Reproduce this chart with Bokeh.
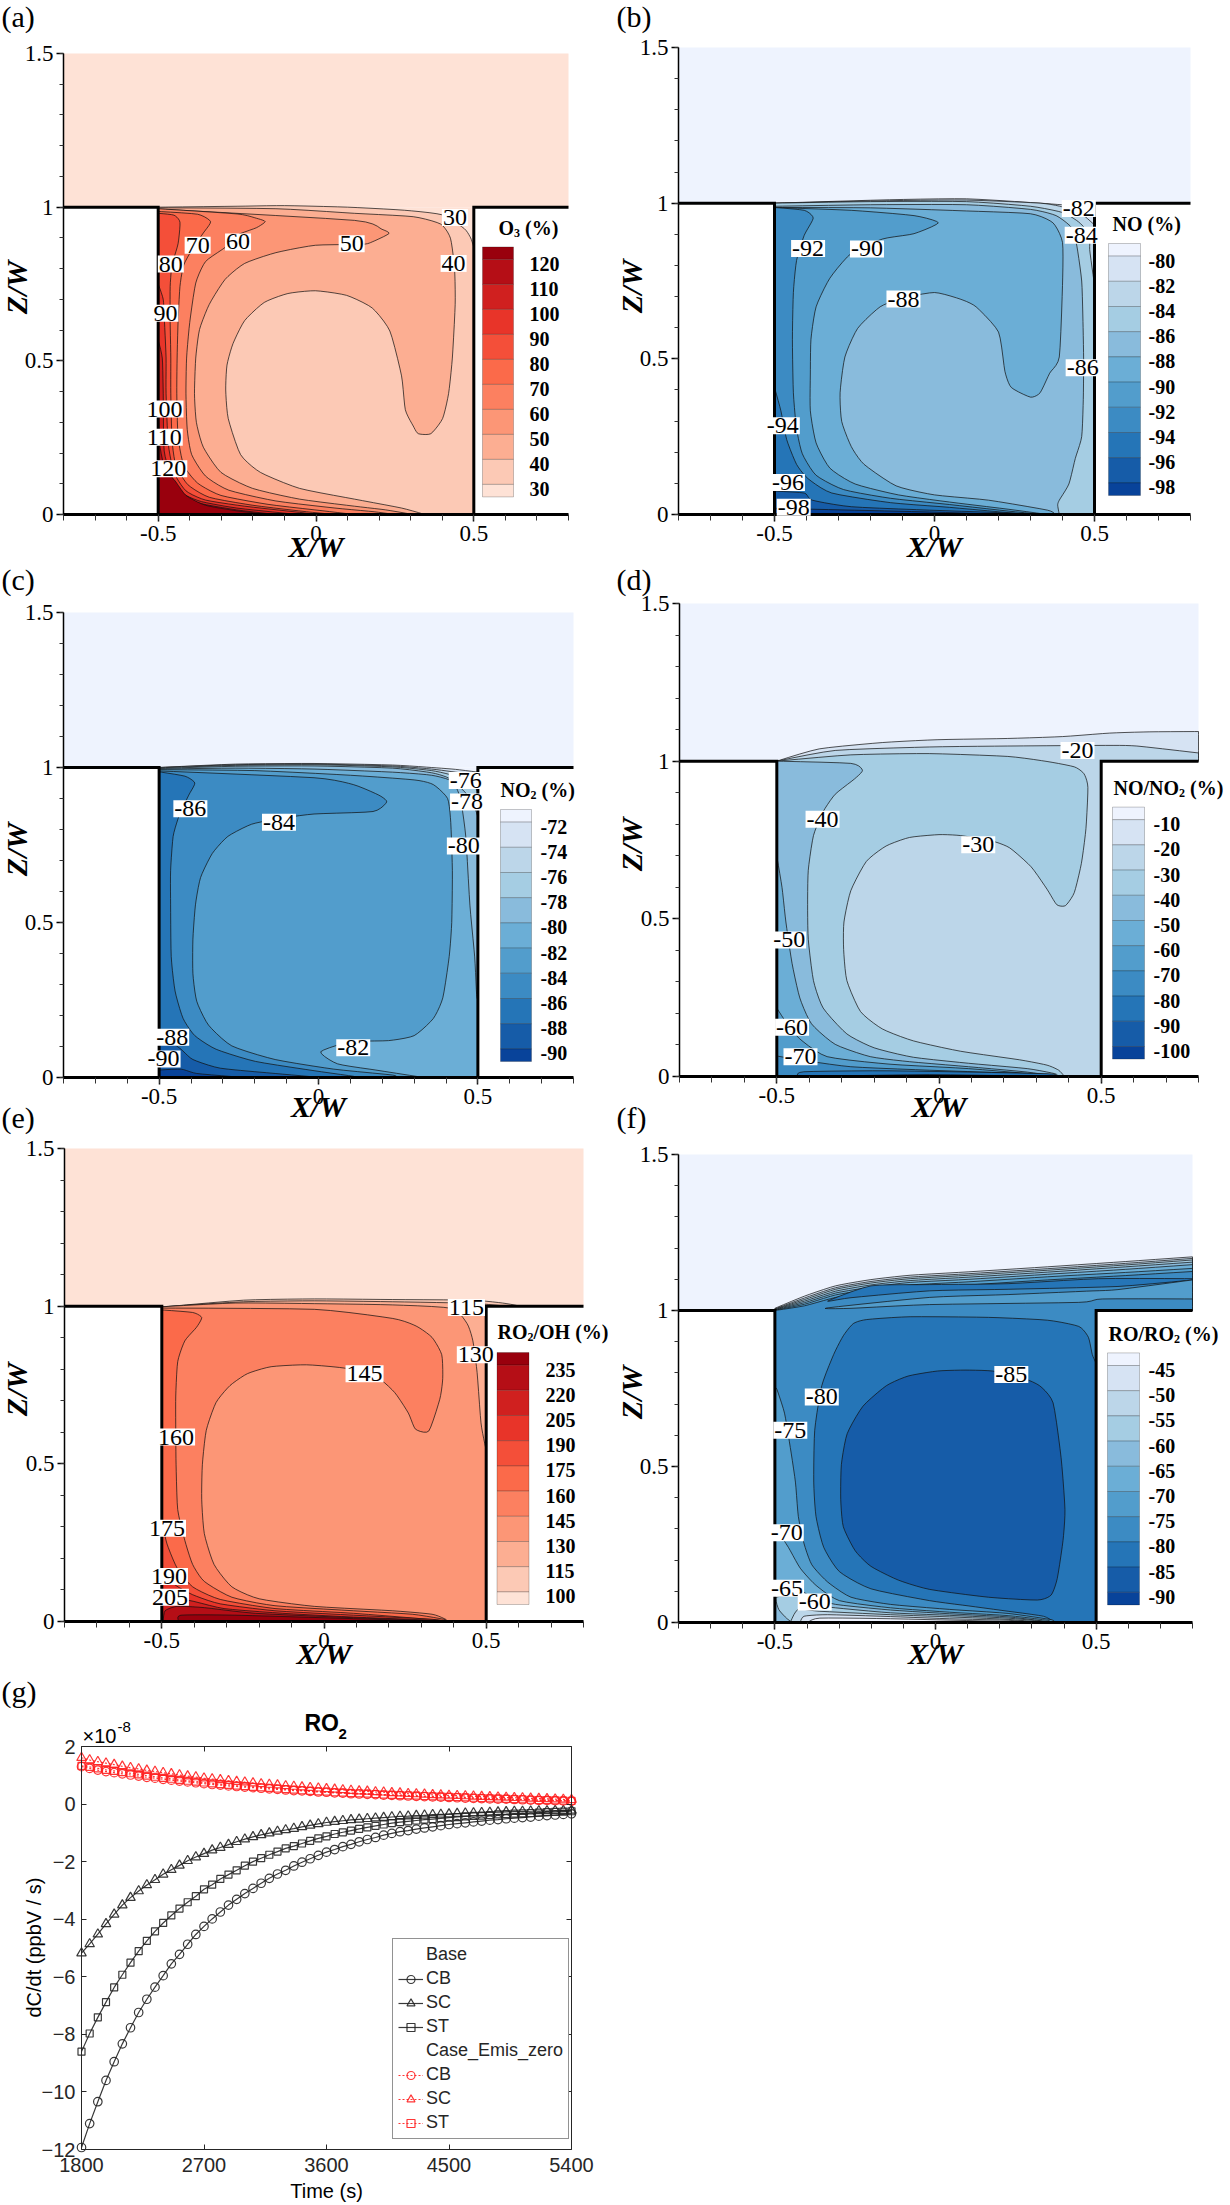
import math
from bokeh.plotting import figure
from bokeh.layouts import column, row
from bokeh.embed import file_html
from bokeh.resources import INLINE
from bokeh.models import (Label, FixedTicker, NumeralTickFormatter, LinearAxis, Legend, LegendItem)

# ---------- colour scales ----------
REDS = ["#fee2d6", "#fcc9b5", "#fcae92", "#fc9676", "#fc8060", "#fb6a4a", "#f44f39", "#e83429", "#d0201f", "#b50e16", "#99000d"]
BLUES = ["#eef3fe", "#d6e3f3", "#bcd6e9", "#a5cde3", "#89bbdc", "#6baed6", "#529dcc", "#3c8bc3", "#2575b7", "#165ca8", "#08439a"]

# ---------- panel (a) O3 ----------
a_levels = [120, 110, 100, 90, 80, 70, 60, 50, 40, 30]
a_30 = [(-.5,1),(-.25,1.003),(-.1,1.005),(.1,1.0),(.28,.99),(.4,.975),(.47,.93),(.49,.9),(.5,.87),(.5,0),(-.5,0)]
a_40 = [(-.5,.998),(-.127,.995),(.122,.98),(.308,.969),(.395,.945),(.426,.899),(.439,.8),(.441,.684),(.432,.509),(.42,.393),(.401,.312),(.364,.263),(.324,.263),(.308,.288),(.283,.341),(.271,.451),(.234,.597),(.178,.672),(.097,.713),(-.002,.728),(-.089,.719),(-.164,.69),(-.226,.631),(-.263,.556),(-.282,.486),(-.286,.405),(-.278,.312),(-.239,.195),(-.176,.137),(-.052,.085),(.122,.05),(.271,.021),(.345,0),(-.5,0)]
a_50 = [(-.5,.994),(.122,.957),(.209,.928),(.231,.914),(.178,.887),(.147,.879),(-.002,.876),(-.127,.852),(-.226,.817),(-.288,.765),(-.338,.684),(-.369,.602),(-.381,.509),(-.385,.393),(-.379,.3),(-.357,.219),(-.301,.137),(-.201,.085),(-.052,.05),(.122,.027),(.221,.015),(.308,0),(-.5,0)]
a_60 = [(-.5,.995),(-.25,.978),(-.189,.964),(-.161,.953),(-.189,.933),(-.25,.909),(-.288,.869),(-.35,.823),(-.381,.753),(-.4,.625),(-.41,.509),(-.412,.393),(-.408,.277),(-.394,.195),(-.35,.125),(-.276,.079),(-.127,.044),(.06,.021),(.184,.009),(.25,0),(-.5,0)]
a_70 = [(-.5,.986),(-.375,.977),(-.334,.953),(-.357,.916),(-.388,.87),(-.419,.812),(-.431,.742),(-.437,.626),(-.44,.509),(-.441,.393),(-.437,.253),(-.419,.16),(-.375,.102),(-.301,.062),(-.152,.033),(.022,.012),(.122,0),(-.5,0)]
a_80 = [(-.5,.98),(-.45,.974),(-.431,.951),(-.437,.881),(-.456,.812),(-.462,.742),(-.462,.626),(-.46,.509),(-.46,.393),(-.456,.242),(-.444,.16),(-.406,.097),(-.338,.056),(-.2,.03),(-.03,.009),(.06,0),(-.5,0)]
a_90 = [(-.5,.75),(-.484,.7),(-.48,.626),(-.475,.509),(-.475,.393),(-.468,.23),(-.45,.137),(-.412,.077),(-.35,.047),(-.226,.027),(-.052,.007),(0,0),(-.5,0)]
a_100 = [(-.5,.567),(-.487,.509),(-.484,.393),(-.481,.207),(-.456,.12),(-.419,.067),(-.363,.042),(-.251,.021),(-.077,.002),(-.05,0),(-.5,0)]
a_110 = [(-.5,.358),(-.494,.219),(-.468,.108),(-.425,.058),(-.363,.035),(-.251,.015),(-.127,0),(-.5,0)]
a_120 = [(-.5,.16),(-.45,.114),(-.412,.062),(-.35,.03),(-.251,.012),(-.15,0),(-.5,0)]
a_labels = ["30","40","50","60","70","80","90","100","110","120"]
a_label_x = [.44,.436,.113,-.247,-.375,-.46,-.477,-.48,-.481,-.468]
a_label_z = [.966,.817,.881,.887,.876,.815,.655,.343,.251,.149]

# ---------- panel (b) NO ----------
b_levels = [-80,-82,-84,-86,-88,-90,-92,-94,-96,-98]
b_80 = [(-.5,1),(-.14,1.011),(.1,1.014),(.33,1.0),(.41,.994),(.5,.99),(.5,0),(-.5,0)]
b_82 = [(-.5,1),(-.14,1.008),(.1,1.01),(.33,1.0),(.4,.988),(.46,.965),(.5,.93),(.5,0),(-.5,0)]
b_84 = [(-.5,1),(-.2,1.005),(.1,1.005),(.3,.99),(.4,.97),(.45,.94),(.485,.9),(.485,.851),(.497,.759),(.5,.74),(.5,0),(-.5,0)]
b_86 = [(-.5,.99),(-.2,.995),(.1,.995),(.3,.98),(.38,.96),(.43,.92),(.445,.862),(.46,.75),(.464,.62),(.466,.5),(.465,.37),(.46,.25),(.44,.18),(.42,.098),(.39,.046),(.385,.03),(.39,0),(-.5,0)]
b_88 = [(-.5,.986),(-.2,.985),(.1,.975),(.3,.966),(.37,.937),(.4,.874),(.4,.736),(.39,.506),(.36,.454),(.33,.391),(.3,.377),(.24,.408),(.22,.46),(.2,.586),(.13,.667),(.08,.692),(0,.713),(-.1,.695),(-.17,.667),(-.24,.598),(-.28,.506),(-.295,.391),(-.29,.299),(-.26,.218),(-.22,.161),(-.12,.092),(0,.063),(.169,.046),(.353,.014),(.377,0),(-.5,0)]
b_90 = [(-.5,.986),(-.26,.977),(-.064,.96),(.012,.937),(-.064,.902),(-.162,.885),(-.26,.839),(-.327,.759),(-.37,.667),(-.386,.563),(-.388,.448),(-.388,.333),(-.37,.23),(-.327,.149),(-.248,.098),(-.113,.063),(.047,.04),(.23,.017),(.353,0),(-.5,0)]
b_92 = [(-.5,.986),(-.407,.977),(-.379,.952),(-.407,.897),(-.431,.816),(-.441,.713),(-.444,.563),(-.441,.391),(-.431,.276),(-.413,.195),(-.37,.126),(-.284,.08),(-.137,.052),(.047,.032),(.23,.011),(.34,0),(-.5,0)]
b_94 = [(-.5,.408),(-.48,.333),(-.462,.241),(-.431,.161),(-.395,.115),(-.321,.069),(-.137,.038),(.047,.023),(.23,.006),(.3,0),(-.5,0)]
b_96 = [(-.5,.075),(-.407,.069),(-.382,.046),(-.26,.025),(-.015,.014),(.23,.005),(.29,0),(-.5,0)]
b_98 = [(-.5,.02),(-.382,.017),(-.015,.008),(.23,0),(-.5,0)]
b_labels = ["-82","-84","-86","-88","-90","-92","-94","-96","-98"]
b_label_x = [.451,.46,.463,-.097,-.211,-.395,-.474,-.458,-.44]
b_label_z = [.983,.897,.471,.692,.853,.854,.285,.103,.023]

# ---------- panel (c) NO2 ----------
c_levels = [-72,-74,-76,-78,-80,-82,-84,-86,-88,-90]
c_72 = [(-.5,1),(-.26,1.011),(-.014,1.013),(.232,1.008),(.355,1.0),(.43,.994),(.5,.985),(.5,0),(-.5,0)]
c_74 = [(-.5,1),(-.26,1.009),(-.014,1.011),(.232,1.005),(.355,.995),(.43,.985),(.5,.975),(.5,0),(-.5,0)]
c_76 = [(-.5,.999),(-.26,1.007),(-.014,1.009),(.232,1.002),(.355,.99),(.42,.975),(.48,.95),(.5,.92),(.5,0),(-.5,0)]
c_78 = [(-.5,.997),(-.26,1.004),(-.014,1.005),(.232,.998),(.355,.983),(.41,.965),(.46,.92),(.49,.87),(.5,.84),(.5,0),(-.5,0)]
c_80 = [(-.5,.995),(-.26,.998),(-.014,.995),(.232,.985),(.355,.975),(.42,.955),(.445,.9),(.462,.778),(.475,.556),(.49,.389),(.496,.268),(.5,.25),(.5,0),(-.5,0)]
c_82 = [(-.5,.993),(-.2,.99),(.1,.975),(.3,.96),(.36,.945),(.405,.9),(.415,.822),(.42,.667),(.418,.5),(.41,.39),(.39,.257),(.36,.19),(.3,.135),(.22,.119),(.1,.115),(.007,.083),(.06,.044),(.18,.024),(.33,0),(-.5,0)]
c_84 = [(-.5,.989),(-.014,.967),(.109,.945),(.189,.911),(.214,.889),(.171,.858),(-.014,.85),(-.124,.835),(-.21,.817),(-.284,.778),(-.333,.723),(-.37,.645),(-.386,.557),(-.394,.446),(-.394,.335),(-.382,.246),(-.345,.169),(-.272,.102),(-.136,.058),(.048,.027),(.232,.008),(.244,0),(-.5,0)]
c_86 = [(-.5,.986),(-.419,.972),(-.388,.95),(-.407,.911),(-.437,.845),(-.456,.778),(-.464,.667),(-.464,.557),(-.462,.39),(-.45,.279),(-.425,.191),(-.388,.135),(-.321,.091),(-.198,.052),(-.014,.022),(.109,.004),(.12,0),(-.5,0)]
c_88 = [(-.5,.14),(-.47,.12),(-.431,.091),(-.394,.058),(-.308,.03),(-.136,.013),(-.014,.002),(0,0),(-.5,0)]
c_90 = [(-.5,.024),(-.431,.027),(-.382,.013),(-.259,.002),(-.24,0),(-.5,0)]
c_labels = ["-76","-78","-80","-82","-84","-86","-88","-90"]
c_label_x = [.462,.466,.456,.109,-.124,-.402,-.459,-.486]
c_label_z = [.958,.889,.747,.096,.823,.867,.13,.06]

# ---------- panel (d) NO/NO2 ----------
d_levels = [-10,-20,-30,-40,-50,-60,-70,-80,-90,-100]
d_10 = [(-.5,1),(-.369,1.039),(-.175,1.059),(-.006,1.068),(.212,1.072),(.381,1.078),(.526,1.089),(.65,1.093),(.8,1.094),(.8,1),(.5,1),(.5,0),(-.5,0)]
d_20 = [(-.5,1),(-.32,1.034),(-.03,1.045),(.212,1.048),(.514,1.05),(.61,1.048),(.8,1.026),(.8,1),(.5,1),(.5,0),(-.5,0)]
d_30 = [(-.5,1),(-.272,1.02),(-.03,1.024),(.212,1.015),(.333,.999),(.417,.982),(.447,.96),(.459,.917),(.453,.786),(.439,.676),(.417,.583),(.39,.542),(.363,.545),(.333,.594),(.284,.665),(.218,.725),(.163,.747),(.067,.764),(0,.767),(-.091,.758),(-.163,.731),(-.224,.682),(-.272,.589),(-.293,.49),(-.294,.403),(-.284,.304),(-.242,.206),(-.175,.151),(-.079,.113),(.067,.08),(.248,.053),(.333,.036),(.369,.02),(.387,0),(-.5,0)]
d_40 = [(-.5,1),(-.272,.993),(-.236,.971),(-.26,.944),(-.32,.895),(-.357,.84),(-.387,.764),(-.403,.654),(-.405,.545),(-.403,.435),(-.387,.304),(-.357,.217),(-.284,.135),(-.2,.091),(-.079,.061),(.091,.042),(.272,.025),(.357,.009),(.369,0),(-.5,0)]
d_50 = [(-.5,.698),(-.484,.6),(-.472,.49),(-.453,.359),(-.429,.249),(-.393,.167),(-.32,.102),(-.212,.063),(-.091,.047),(.091,.031),(.272,.014),(.357,0),(-.5,0)]
d_60 = [(-.5,.217),(-.472,.173),(-.43,.12),(-.345,.063),(-.151,.039),(.091,.025),(.345,.003),(.355,0),(-.5,0)]
d_70 = [(-.5,.065),(-.429,.053),(-.272,.031),(-.03,.02),(.272,.009),(.357,0),(-.5,0)]
d_80 = [(-.435,0),(-.417,.015),(-.151,.018),(.333,.009),(.351,0)]
d_90 = [(-.4,0),(-.03,.006),(.33,0)]
d_labels = ["-20","-30","-40","-50","-60","-70"]
d_label_x = [.427,.121,-.359,-.462,-.453,-.427]
d_label_z = [1.034,.735,.816,.433,.156,.063]

# ---------- panel (e) RO2/OH ----------
e_levels = [235,220,205,190,175,160,145,130,115,100]
e_100 = [(-.5,.997),(-.248,1.019),(-.03,1.023),(.212,1.021),(.453,1.019),(.55,1.01),(.6,1),(.5,1),(.5,0),(-.5,0)]
e_115 = [(-.5,.998),(-.248,1.014),(-.03,1.017),(.212,1.014),(.42,1.01),(.5,1.006),(.56,1),(.5,1),(.5,0),(-.5,0)]
e_130 = [(-.5,.998),(-.272,1.01),(-.03,1.008),(.212,1.004),(.393,.993),(.441,.945),(.459,.89),(.472,.79),(.484,.63),(.497,.557),(.5,.55),(.5,0),(-.5,0)]
e_145 = [(-.5,.994),(-.03,.99),(.212,.961),(.284,.937),(.333,.901),(.363,.846),(.366,.77),(.357,.705),(.323,.604),(.282,.61),(.26,.661),(.218,.726),(.163,.775),(.067,.803),(-.054,.814),(-.163,.808),(-.236,.786),(-.29,.748),(-.333,.694),(-.363,.606),(-.375,.497),(-.377,.388),(-.369,.279),(-.339,.181),(-.284,.11),(-.2,.072),(-.03,.048),(.212,.034),(.333,.023),(.375,.007),(.381,0),(-.5,0)]
e_160 = [(-.5,.988),(-.405,.98),(-.377,.964),(-.393,.933),(-.429,.89),(-.451,.824),(-.457,.715),(-.457,.606),(-.456,.497),(-.451,.355),(-.429,.257),(-.405,.181),(-.369,.127),(-.284,.077),(-.151,.05),(.091,.034),(.272,.023),(.369,.007),(.378,0),(-.5,0)]
e_175 = [(-.5,.317),(-.484,.246),(-.453,.17),(-.405,.11),(-.32,.07),(-.151,.041),(.091,.026),(.369,.003),(.375,0),(-.5,0)]
e_190 = [(-.5,.17),(-.466,.121),(-.405,.085),(-.32,.056),(-.151,.034),(.091,.02),(.333,.007),(.37,0),(-.5,0)]
e_205 = [(-.5,.067),(-.417,.067),(-.308,.041),(-.127,.026),(.091,.014),(.333,.004),(.35,0),(-.5,0)]
e_220 = [(-.496,0),(-.49,.034),(-.453,.048),(-.369,.044),(-.212,.026),(.091,.012),(.333,.003),(.345,0)]
e_235 = [(-.447,0),(-.441,.02),(-.272,.02),(.091,.009),(.333,.001),(.34,0)]
e_labels = ["115","130","145","160","175","190","205"]
e_label_x = [.439,.468,.125,-.456,-.484,-.478,-.475]
e_label_z = [.996,.846,.786,.585,.296,.143,.077]

# ---------- panel (f) RO/RO2 ----------
f_levels = [-45,-50,-55,-60,-65,-70,-75,-80,-85,-90]
f_plume_x = [-.5,-.408,-.311,-.201,-.079,.104,.348,.592,.8]
f_45 = [1.007,1.046,1.079,1.099,1.113,1.124,1.14,1.157,1.172]
f_50 = [1.005,1.04,1.073,1.093,1.107,1.118,1.134,1.151,1.167]
f_55 = [1.004,1.035,1.068,1.088,1.102,1.113,1.129,1.146,1.162]
f_60 = [1.003,1.03,1.062,1.082,1.096,1.107,1.123,1.14,1.155]
f_65 = [1.002,1.025,1.056,1.075,1.09,1.1,1.116,1.132,1.147]
f_70 = [1.001,1.02,1.05,1.068,1.082,1.092,1.108,1.122,1.135]
f_75 = [1.0,1.015,1.042,1.06,1.072,1.082,1.098,1.112,1.125]
f_shear_80 = [(-.336,1.03),(-.201,1.079),(-.018,1.083),(.226,1.086),(.507,1.102),(.8,1.102),(.8,1.098),(.568,1.077),(.226,1.068),(-.018,1.063),(-.263,1.041)]
f_shear_70 = [(-.339,1.008),(-.018,1.042),(.226,1.051),(.47,1.062),(.568,1.067),(.8,1.098),(.8,1.037),(.519,1.037),(.446,1.026),(-.018,1.019),(-.263,1.007)]
f_80 = [(-.256,.958),(-.214,.971),(-.079,.98),(.165,.978),(.348,.969),(.446,.949),(.476,.914),(.488,.859),(.5,.831),(.5,0),(.372,0),(.336,.02),(.226,.036),(.104,.053),(-.018,.07),(-.201,.108),(-.299,.163),(-.348,.241),(-.372,.34),(-.379,.45),(-.376,.616),(-.354,.759),(-.317,.859),(-.287,.919)]
f_85 = [(.092,.809),(.006,.806),(-.085,.79),(-.153,.759),(-.226,.693),(-.275,.605),(-.293,.506),(-.295,.395),(-.287,.307),(-.25,.23),(-.201,.18),(-.116,.136),(-.018,.106),(.165,.081),(.317,.072),(.36,.088),(.379,.141),(.397,.263),(.403,.362),(.391,.528),(.366,.704),(.324,.759),(.263,.787),(.177,.806)]
f_low_75 = [(-.5,.75),(-.494,.748),(-.47,.671),(-.452,.561),(-.436,.45),(-.427,.34),(-.409,.252),(-.385,.185),(-.336,.13),(-.263,.081),(-.14,.058),(.043,.042),(.226,.029),(.36,.009),(.37,0),(-.5,0)]
f_low_70 = [(-.5,.307),(-.458,.241),(-.421,.174),(-.372,.119),(-.299,.07),(-.14,.047),(.043,.033),(.226,.022),(.348,.007),(.36,0),(-.5,0)]
f_low_65 = [(-.5,.119),(-.421,.103),(-.385,.081),(-.311,.058),(-.14,.04),(.043,.028),(.226,.018),(.348,.003),(.355,0),(-.5,0)]
f_low_60 = [(-.495,.081),(-.488,.042),(-.464,.014),(-.446,0),(.35,0),(.348,.002),(.226,.014),(.043,.023),(-.14,.031),(-.311,.047),(-.385,.058),(-.43,.085)]
f_low_55 = [(-.452,0),(-.428,.042),(-.36,.036),(-.14,.025),(.043,.018),(.226,.01),(.336,0)]
f_low_50 = [(-.421,0),(-.409,.02),(-.336,.025),(-.14,.019),(.043,.012),(.226,.007),(.324,0)]
f_low_45 = [(-.397,0),(-.36,.014),(-.14,.012),(.226,.003),(.28,0)]
f_labels = ["-85","-80","-75","-70","-65","-60"]
f_label_x = [.236,-.354,-.452,-.463,-.462,-.376]
f_label_z = [.795,.723,.616,.288,.11,.066]

# ---------- panel (g) RO2 time series (units of 1e-8 ppbV/s) ----------
g_ticks_x = [1800, 2700, 3600, 4500, 5400]
g_ticks_y = [2, 0, -2, -4, -6, -8, -10, -12]
base_cb = [-11.93,-11.1,-10.34,-9.6,-8.95,-8.33,-7.77,-7.24,-6.78,-6.36,-5.96,-5.55,-5.22,-4.87,-4.53,-4.25,-3.99,-3.75,-3.51,-3.31,-3.11,-2.93,-2.75,-2.58,-2.43,-2.3,-2.15,-2.02,-1.9,-1.78,-1.67,-1.58,-1.48,-1.4,-1.31,-1.23,-1.16,-1.08,-1.02,-.96,-.92,-.87,-.83,-.79,-.75,-.71,-.68,-.65,-.62,-.59,-.56,-.54,-.51,-.49,-.47,-.45,-.42,-.4,-.38,-.36,-.34]
base_sc = [-5.18,-4.86,-4.52,-4.16,-3.83,-3.51,-3.25,-3.02,-2.81,-2.63,-2.44,-2.28,-2.13,-1.97,-1.84,-1.72,-1.6,-1.51,-1.41,-1.31,-1.22,-1.14,-1.07,-1.01,-.95,-.9,-.85,-.79,-.74,-.69,-.64,-.61,-.58,-.55,-.53,-.51,-.49,-.47,-.45,-.43,-.42,-.4,-.39,-.37,-.36,-.35,-.33,-.32,-.31,-.3,-.29,-.28,-.27,-.26,-.26,-.25,-.24,-.24,-.23,-.23,-.22]
base_st = [-8.6,-7.97,-7.41,-6.88,-6.37,-5.93,-5.51,-5.11,-4.75,-4.42,-4.13,-3.87,-3.63,-3.41,-3.2,-2.96,-2.8,-2.6,-2.45,-2.3,-2.14,-2.0,-1.88,-1.76,-1.65,-1.54,-1.46,-1.37,-1.28,-1.19,-1.12,-1.04,-.98,-.92,-.86,-.81,-.76,-.71,-.66,-.63,-.6,-.57,-.54,-.52,-.5,-.47,-.45,-.43,-.41,-.4,-.38,-.36,-.35,-.33,-.32,-.31,-.3,-.28,-.27,-.26,-.25]
zero_cb = [1.3,1.24,1.18,1.13,1.09,1.05,1.01,.97,.93,.9,.86,.83,.8,.77,.74,.71,.68,.66,.63,.61,.59,.57,.55,.53,.51,.49,.47,.46,.44,.42,.41,.39,.38,.36,.35,.34,.33,.31,.3,.29,.28,.27,.26,.25,.24,.23,.22,.21,.2,.19,.18,.17,.17,.16,.15,.14,.13,.13,.12,.11,.1]
zero_sc = [1.61,1.53,1.47,1.42,1.37,1.31,1.26,1.22,1.17,1.13,1.09,1.05,1.01,.97,.94,.9,.87,.84,.81,.78,.76,.73,.7,.68,.66,.63,.61,.59,.57,.55,.53,.51,.49,.47,.45,.44,.42,.41,.39,.38,.36,.35,.34,.32,.31,.3,.29,.28,.27,.26,.25,.24,.23,.22,.21,.2,.19,.18,.17,.16,.15]
zero_st = [1.33,1.29,1.24,1.19,1.15,1.11,1.07,1.03,.99,.95,.91,.88,.84,.81,.78,.75,.72,.69,.67,.64,.62,.6,.58,.56,.54,.52,.5,.48,.46,.44,.43,.41,.4,.38,.37,.36,.35,.33,.32,.31,.3,.29,.28,.27,.26,.25,.24,.23,.22,.21,.2,.19,.18,.17,.16,.15,.14,.14,.13,.12,.11]

WALL_X = [-.8, -.5, -.5, .5, .5, .8]
WALL_Z = [1, 1, 0, 0, 1, 1]
SERIF = "Liberation Serif"
SANS = "Liberation Sans"
WIDTHS = {"N": .722, "O": .778, "R": .722, "H": .778, "/": .278, " ": .25, "(": .333, "%": 1.0, ")": .333}


def text_width(s, size):
    return sum(WIDTHS.get(c, .5) for c in s) * size


def X(frame, px, lo=-.8, hi=.8):
    return lo + (px - frame[0]) / (frame[1] - frame[0]) * (hi - lo)


def Y(frame, py, lo=0, hi=1.5):
    return lo + (frame[3] - py) / (frame[3] - frame[2]) * (hi - lo)


def panel(frame, origin, size):
    x0, y0 = origin
    w, h = size
    p = figure(width=w, height=h, x_range=(X(frame, x0), X(frame, x0 + w)), y_range=(Y(frame, y0 + h), Y(frame, y0)),
               toolbar_location=None, output_backend="svg", min_border=0, outline_line_color=None)
    p.grid.visible = False
    ax_b, ax_l = p.below[0], p.left[0]
    ax_b.ticker = FixedTicker(ticks=[-.5, 0, .5], minor_ticks=[round(-.8 + .1 * i, 1) for i in range(17)])
    ax_l.ticker = FixedTicker(ticks=[0, .5, 1, 1.5], minor_ticks=[round(.1 * i, 1) for i in range(16)])
    ax_b.fixed_location = 0
    ax_l.fixed_location = -.8
    ax_b.bounds = (-.8, .8)
    ax_l.bounds = (0, 1.5)
    for ax in (ax_b, ax_l):
        ax.formatter = NumeralTickFormatter(format="0.[0]")
        ax.major_label_text_font = SERIF
        ax.major_label_text_font_size = "23px"
        ax.major_label_text_color = "black"
        ax.major_tick_in = 0
        ax.minor_tick_in = 0
        ax.major_tick_line_color = "black"
        ax.minor_tick_line_color = "#333333"
        ax.axis_line_color = "black"
        ax.major_tick_line_width = 1.5
    ax_b.axis_line_width = 3
    ax_l.axis_line_width = 1.5
    ax_b.major_tick_out = 7
    ax_b.minor_tick_out = 6
    ax_l.major_tick_out = 7
    ax_l.minor_tick_out = 4
    ax_b.major_label_standoff = 4
    ax_l.major_label_standoff = 3
    return p


def say(p, frame, px, py, s, size, font=SERIF, style="normal", align="center", angle=0, lim=None):
    xl, xh, yl, yh = lim or (-.8, .8, 0, 1.5)
    p.add_layout(Label(x=X(frame, px, xl, xh), y=Y(frame, py, yl, yh), text=s, text_font=font,
                       text_font_size=f"{size}px", text_font_style=style, text_align=align,
                       text_baseline="middle", text_color="black", angle=angle, angle_units="rad"))


def is_edge(q):
    return q[1] == 0 or abs(q[0]) == .5 or q[0] == .8


def smooth(poly, tension=.3, steps=5):
    # rounds the traced contour between its traced vertices; vertices on a wall stay corners
    n = len(poly)
    out = []
    for i in range(n):
        a, b = poly[i], poly[(i + 1) % n]
        pa_, pb_ = poly[i - 1], poly[(i + 2) % n]
        ta = (0, 0) if is_edge(a) else (tension * (b[0] - pa_[0]), tension * (b[1] - pa_[1]))
        tb = (0, 0) if is_edge(b) else (tension * (pb_[0] - a[0]), tension * (pb_[1] - a[1]))
        for s in range(steps):
            t = s / steps
            h1, h2 = 2 * t**3 - 3 * t**2 + 1, -2 * t**3 + 3 * t**2
            h3, h4 = t**3 - 2 * t**2 + t, t**3 - t**2
            out.append((h1 * a[0] + h2 * b[0] + h3 * ta[0] + h4 * tb[0], h1 * a[1] + h2 * b[1] + h3 * ta[1] + h4 * tb[1]))
    return out


def fields(p, sky, fills):
    p.quad(left=-.8, right=.8, bottom=1, top=1.5, fill_color=sky, line_color=None)
    p.quad(left=-.5, right=.5, bottom=0, top=1, fill_color=sky, line_color=None)
    for poly, col in fills:
        curve = smooth(poly)
        p.patch([q[0] for q in curve], [q[1] for q in curve], fill_color=col, line_color="#111111",
                line_width=.8, line_alpha=.9)
    p.line(WALL_X, WALL_Z, line_color="black", line_width=3, line_join="miter")


def contour_labels(p, texts, xs, zs):
    for t, x, z in zip(texts, xs, zs):
        p.add_layout(Label(x=x, y=z, text=t, text_font=SERIF, text_font_size="24px", text_align="center",
                           text_baseline="middle", text_color="black", background_fill_color="white",
                           padding=1))


def colorbar(p, frame, x0, x1, ytop, pitch, levels, colors, label_x, title, title_x, title_y):
    half = pitch / 2
    edges = [ytop] + [ytop + half + k * pitch for k in range(len(levels))] + [ytop + half + (len(levels) - 1) * pitch + half]
    p.quad(left=[X(frame, x0)] * len(colors), right=[X(frame, x1)] * len(colors),
           top=[Y(frame, e) for e in edges[:-1]], bottom=[Y(frame, e) for e in edges[1:]],
           fill_color=colors, line_color="black", line_alpha=.22, line_width=1)
    for k, lv in enumerate(levels):
        say(p, frame, label_x, edges[k + 1] + 4.5, str(lv), 20, style="bold", align="left")
    px = title_x
    for i, part in enumerate(title):
        if i == 1 and len(title) > 1:
            say(p, frame, px, title_y + 5, part, 12, style="bold", align="left")
            px += text_width(part, 12)
        else:
            lead = text_width(part[:len(part) - len(part.lstrip())], 20)
            say(p, frame, px + lead, title_y, part.strip(), 20, style="bold", align="left")
            px += text_width(part, 20)


def decorate(p, frame, xw_y, zw_y):
    say(p, frame, (frame[0] + frame[1]) / 2, xw_y, "X/W", 30, style="bold italic")
    zx = 16 if frame[0] < 100 else 631
    say(p, frame, zx, zw_y, "Z/W", 30, style="bold italic", angle=math.pi / 2)


# frames as (left, right, top, bottom) in page pixels; rows are stacked under each other
F_A, F_B = (63, 568, 53, 514), (678, 1190, 47, 514)
F_C, F_D = (63, 573, 612, 1077), (679, 1198, 603, 1076)
F_E, F_F = (64, 583, 1148, 1621), (678, 1192, 1154, 1622)
F_G = (81, 571, 1746, 2149)

# --- a ---
pa = panel(F_A, (0, 0), (615, 562))
fields(pa, REDS[0], [(a_30, REDS[1]), (a_40, REDS[2]), (a_50, REDS[3]), (a_60, REDS[4]), (a_70, REDS[5]), (a_80, REDS[6]),
                     (a_90, REDS[7]), (a_100, REDS[8]), (a_110, REDS[9]), (a_120, REDS[10])])
contour_labels(pa, a_labels, a_label_x, a_label_z)
colorbar(pa, F_A, 482, 513, 246.4, 25, a_levels, REDS[::-1], 529, ["O", "3", " (%)"], 498, 227)
decorate(pa, F_A, 546, 287)
say(pa, F_A, 1, 16, "(a)", 30, align="left")

# --- b ---
pb = panel(F_B, (615, 0), (615, 562))
fields(pb, BLUES[0], [(b_80, BLUES[1]), (b_82, BLUES[2]), (b_84, BLUES[3]), (b_86, BLUES[4]), (b_88, BLUES[5]), (b_90, BLUES[6]),
                      (b_92, BLUES[7]), (b_94, BLUES[8]), (b_96, BLUES[9]), (b_98, BLUES[10])])
contour_labels(pb, b_labels, b_label_x, b_label_z)
colorbar(pb, F_B, 1108, 1140, 243, 25.2, b_levels, BLUES, 1148, ["NO (%)"], 1112, 223)
decorate(pb, F_B, 546, 286)
say(pb, F_B, 616, 16, "(b)", 30, align="left")

# --- c ---
pc = panel(F_C, (0, 562), (615, 573))
fields(pc, BLUES[0], [(c_72, BLUES[1]), (c_74, BLUES[2]), (c_76, BLUES[3]), (c_78, BLUES[4]), (c_80, BLUES[5]), (c_82, BLUES[6]),
                      (c_84, BLUES[7]), (c_86, BLUES[8]), (c_88, BLUES[9]), (c_90, BLUES[10])])
contour_labels(pc, c_labels, c_label_x, c_label_z)
colorbar(pc, F_C, 500, 531, 809, 25.2, c_levels, BLUES, 540, ["NO", "2", " (%)"], 500, 789)
decorate(pc, F_C, 1106, 849)
say(pc, F_C, 1, 579, "(c)", 30, align="left")
say(pc, F_C, 1, 1117, "(e)", 30, align="left")

# --- d ---
pd_ = panel(F_D, (615, 562), (615, 573))
fields(pd_, BLUES[0], [(d_10, BLUES[1]), (d_20, BLUES[2]), (d_30, BLUES[3]), (d_40, BLUES[4]), (d_50, BLUES[5]), (d_60, BLUES[6]),
                       (d_70, BLUES[7]), (d_80, BLUES[8]), (d_90, BLUES[9])])
contour_labels(pd_, d_labels, d_label_x, d_label_z)
colorbar(pd_, F_D, 1112, 1144, 806.6, 25.2, d_levels, BLUES, 1153, ["NO/NO", "2", " (%)"], 1113, 787)
decorate(pd_, F_D, 1106, 844)
say(pd_, F_D, 616, 579, "(d)", 30, align="left")
say(pd_, F_D, 616, 1117, "(f)", 30, align="left")

# --- e ---
pe = panel(F_E, (0, 1135), (615, 537))
fields(pe, REDS[0], [(e_100, REDS[1]), (e_115, REDS[2]), (e_130, REDS[3]), (e_145, REDS[4]), (e_160, REDS[5]), (e_175, REDS[6]),
                     (e_190, REDS[7]), (e_205, REDS[8]), (e_220, REDS[9]), (e_235, REDS[10])])
contour_labels(pe, e_labels, e_label_x, e_label_z)
colorbar(pe, F_E, 496.5, 528.5, 1352, 25.2, e_levels, REDS[::-1], 545, ["RO", "2", "/OH (%)"], 497, 1331)
decorate(pe, F_E, 1653, 1389)

# --- f ---
def plume(zs):
    return list(zip(f_plume_x, zs)) + [(.8, 1), (.5, 1), (.5, 0), (-.5, 0)]

pf = panel(F_F, (615, 1135), (615, 537))
fields(pf, BLUES[0], [(plume(f_45), BLUES[1]), (plume(f_50), BLUES[2]), (plume(f_55), BLUES[3]), (plume(f_60), BLUES[4]),
                      (plume(f_65), BLUES[5]), (plume(f_70), BLUES[6]), (plume(f_75), BLUES[7]),
                      (f_shear_80, BLUES[8]), (f_shear_70, BLUES[6]), (f_80, BLUES[8]), (f_85, BLUES[9]),
                      (f_low_75, BLUES[6]), (f_low_70, BLUES[5]), (f_low_65, BLUES[4]), (f_low_60, BLUES[3]),
                      (f_low_55, BLUES[2]), (f_low_50, BLUES[1]), (f_low_45, BLUES[0])])
contour_labels(pf, f_labels, f_label_x, f_label_z)
colorbar(pf, F_F, 1107, 1139, 1352.4, 25.2, f_levels, BLUES, 1148, ["RO/RO", "2", " (%)"], 1108, 1333)
decorate(pf, F_F, 1653, 1392)

# --- g ---
G_LIM = (1800, 5400, -12, 2)
pg = figure(width=615, height=533,
            x_range=(X(F_G, 0, 1800, 5400), X(F_G, 615, 1800, 5400)),
            y_range=(Y(F_G, 2205, -12, 2), Y(F_G, 1672, -12, 2)),
            toolbar_location=None, output_backend="svg", min_border=0, outline_line_color=None)
pg.grid.visible = False
ax_x = pg.below[0]
ax_y = pg.left[0]
ax_x.ticker = FixedTicker(ticks=g_ticks_x)
ax_y.ticker = FixedTicker(ticks=g_ticks_y)
ax_top = LinearAxis(ticker=FixedTicker(ticks=g_ticks_x), major_label_text_color=None, major_label_text_font_size="1px")
ax_right = LinearAxis(ticker=FixedTicker(ticks=g_ticks_y), major_label_text_color=None, major_label_text_font_size="1px")
pg.add_layout(ax_top, "above")
pg.add_layout(ax_right, "right")
ax_x.fixed_location = -12
ax_top.fixed_location = 2
ax_y.fixed_location = 1800
ax_right.fixed_location = 5400
for ax in (ax_x, ax_top):
    ax.bounds = (1800, 5400)
for ax in (ax_y, ax_right):
    ax.bounds = (-12, 2)
for ax in (ax_x, ax_y, ax_top, ax_right):
    ax.major_tick_in = 5
    ax.major_tick_out = 0
    ax.minor_tick_in = 0
    ax.minor_tick_out = 0
    ax.axis_line_color = "#262626"
    ax.major_tick_line_color = "#262626"
for ax in (ax_x, ax_y):
    ax.major_label_text_font = SANS
    ax.major_label_text_font_size = "20px"
    ax.major_label_text_color = "#262626"
ax_x.major_label_standoff = 8
ax_y.major_label_standoff = 6

def series(vals, marker, size, color, dash):
    xs = [1800 + 60 * i for i in range(len(vals))]
    r1 = pg.line(xs, vals, line_color=color, line_width=1.2, line_dash=dash, line_alpha=.9)
    r2 = pg.scatter(xs, vals, marker=marker, size=size, line_color=color, fill_color=None, line_width=1.2, line_alpha=.9)
    return [r1, r2]

r_cb = series(base_cb, "circle", 8.5, "#222222", "solid")
r_sc = series(base_sc, "triangle", 9.5, "#222222", "solid")
r_st = series(base_st, "square", 7, "#222222", "solid")
z_cb = series(zero_cb, "circle", 8.5, "#ff2020", "2 2")
z_sc = series(zero_sc, "triangle", 9.5, "#ff2020", "2 2")
z_st = series(zero_st, "square", 7, "#ff2020", "2 2")
blank = pg.line([], [], line_alpha=0)
legend = Legend(items=[LegendItem(label="Base", renderers=[blank]), LegendItem(label="CB", renderers=r_cb),
                       LegendItem(label="SC", renderers=r_sc), LegendItem(label="ST", renderers=r_st),
                       LegendItem(label="Case_Emis_zero", renderers=[blank]), LegendItem(label="CB", renderers=z_cb),
                       LegendItem(label="SC", renderers=z_sc), LegendItem(label="ST", renderers=z_st)],
                location=(392, 66), orientation="vertical", margin=0, padding=5, spacing=3,
                glyph_width=25, glyph_height=20, label_height=20, label_standoff=3,
                label_text_font=SANS, label_text_font_size="18px", label_text_color="#262626",
                border_line_color="#262626", border_line_width=1, background_fill_alpha=1)
pg.add_layout(legend, "center")
say(pg, F_G, 304, 1722, "RO", 23, font=SANS, style="bold", align="left", lim=G_LIM)
say(pg, F_G, 338, 1733, "2", 15, font=SANS, style="bold", align="left", lim=G_LIM)
say(pg, F_G, 82, 1735, "\u00d710", 20, font=SANS, align="left", lim=G_LIM)
say(pg, F_G, 117, 1726, "-8", 15, font=SANS, align="left", lim=G_LIM)
say(pg, F_G, 1, 1691, "(g)", 30, align="left", lim=G_LIM)
say(pg, F_G, 326, 2190, "Time (s)", 20, font=SANS, lim=G_LIM)
say(pg, F_G, 33, 1947, "dC/dt (ppbV / s)", 20, font=SANS, angle=math.pi / 2, lim=G_LIM)

page = column(row(pa, pb), row(pc, pd_), row(pe, pf), pg)
open("out.html", "w").write(file_html(page, INLINE))
